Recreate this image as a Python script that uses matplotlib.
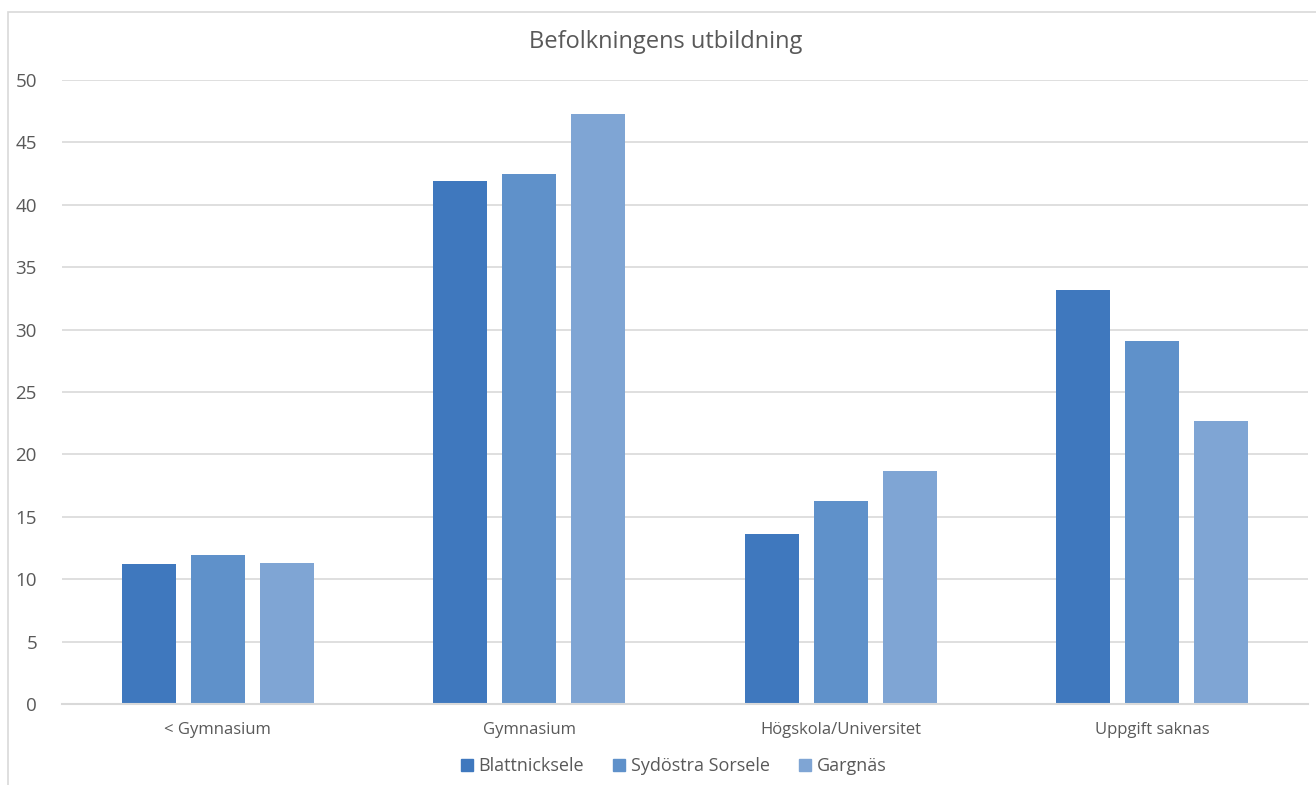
import numpy as np
import matplotlib.pyplot as plt
from matplotlib.lines import Line2D
from matplotlib.patches import Rectangle

plt.rcParams['font.family'] = ['Open Sans', 'DejaVu Sans']

# Data
categories = ['< Gymnasium', 'Gymnasium', 'Högskola/Universitet', 'Uppgift saknas']
series = ['Blattnicksele', 'Sydöstra Sorsele', 'Gargnäs']
blattnicksele = [11.2, 41.9, 13.6, 33.2]
sydostra_sorsele = [11.9, 42.5, 16.3, 29.1]
gargnas = [11.3, 47.3, 18.7, 22.7]
yticks = [0, 5, 10, 15, 20, 25, 30, 35, 40, 45, 50]

colors = ['#3f78be', '#5f91ca', '#7fa5d4']
text_col = '#595959'

fig = plt.figure(figsize=(13.16, 7.85), dpi=100)
W, H = 1316, 785

# chart frame
fig.patches.append(Rectangle((8 / W, -0.1), 1.5, 1 - 12 / H + 0.1,
                             transform=fig.transFigure, fill=False,
                             edgecolor='#d9d9d9', linewidth=1.2))

ax = fig.add_axes([62 / W, 1 - 704 / H, (1308 - 62) / W, (704 - 80) / H])

x = np.arange(len(categories))
width = 0.173
step = 0.2215
for i, (vals, name) in enumerate(zip([blattnicksele, sydostra_sorsele, gargnas], series)):
    ax.bar(x + (i - 1) * step, vals, width, color=colors[i], label=name, zorder=3)

ax.set_xlim(-0.5, len(categories) - 0.5)
ax.set_ylim(0, 50)
ax.set_yticks(yticks)
ax.yaxis.grid(True, color='#d9d9d9', linewidth=1.2, zorder=0)
ax.set_xticks(x)
ax.set_xticklabels(categories, fontsize=12, color=text_col)
ax.tick_params(axis='y', labelsize=13.5, colors=text_col, length=0, pad=18)
ax.tick_params(axis='x', length=0, pad=13)
for s in ['top', 'right', 'left']:
    ax.spines[s].set_visible(False)
ax.spines['bottom'].set_color('#d9d9d9')
ax.spines['bottom'].set_linewidth(1.5)
ax.spines['bottom'].set_zorder(4)

fig.text(666 / W, 1 - 42 / H, 'Befolkningens utbildning',
         ha='center', va='center', fontsize=17, color=text_col)

handles = [Line2D([0], [0], marker='s', linestyle='', markersize=9,
                  markerfacecolor=c, markeredgecolor=c) for c in colors]
leg = fig.legend(handles, series, loc='center', bbox_to_anchor=(671 / W, 1 - 766 / H),
                 ncol=3, frameon=False, fontsize=13, handletextpad=0.0,
                 columnspacing=1.3, handlelength=1.3)
for t in leg.get_texts():
    t.set_color(text_col)

fig.savefig('out.png', dpi=100)
